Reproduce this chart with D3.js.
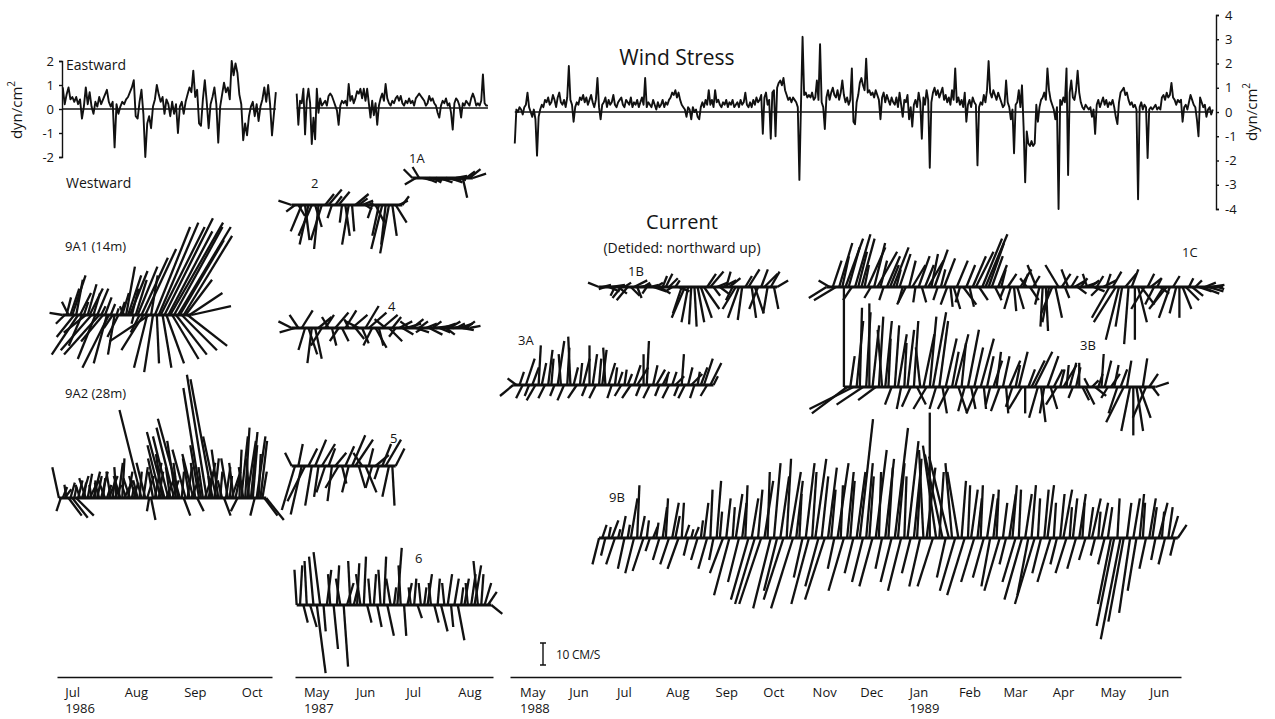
<!DOCTYPE html>
<html>
<head>
<meta charset="utf-8">
<script src="https://cdn.jsdelivr.net/npm/d3@7"></script>
<style>
    body { margin: 0; background: #fff; }
    svg text { font-family: "Open Sans", sans-serif; fill: #151515; }
</style>
</head>
<body>
<div id="wrapper"></div>
<script>
// ---- wind stress, daily values (dyn/cm^2), eastward positive ----
const windStart1986 = new Date(1986, 5, 30);
const windStress1986 = [
    0.9, 0.2, 0.6, 0.9, 0.4, 0.5, 0.3, 0.5, 0.2, 0.4, -0.4, 0.1, 0.9, 0.2, 0.7, 0.1, -0.2, 0.3, 0.1, 0.5,
    0.2, 0.4, 0.6, 0.8, 0.3, 0.1, 0.3, -1.6, 0.2, -0.2, 0.1, 0.3, 0.2, 0.4, 0.5, 0.7, 0.9, 1.2, -0.3, -0.4,
    0.3, 0.8, -0.2, -2.0, -0.6, -0.3, -0.8, 0.1, 0.4, 1.0, 0.6, 0.3, 0.5, -0.2, 0.4, 0.2, -0.3, 0.3, -0.2, 0.2,
    -1.0, 0.1, 0.3, -0.2, 0.3, 0.6, 0.9, 0.7, 1.6, 0.5, 0.8, -0.6, -0.7, 0.4, 1.2, 0.3, -0.8, 0.2, 0.5, 0.9,
    0.2, -1.4, 0.1, 0.6, 1.1, 0.7, 0.9, 0.4, 2.0, 1.4, 1.9, 1.5, 0.6, 0.2, -1.3, -0.6, -1.1, -0.3, 0.1, 0.3,
    -0.3, 0.2, -0.5, 0.1, 0.4, 0.9, 0.3, 1.0, 0.2, -1.1, -0.2, 0.7
];

const windStart1987 = new Date(1987, 3, 27);
const windStress1987 = [
    0.6, -0.7, 0.3, 0.2, 0.8, -1.1, 0.3, 0.8, 0.2, -1.5, -0.4, -1.3, 0.8, -0.2, 0.4, 0.1, 0.2, 0.3, 0.1, 0.5,
    0.6, 0.5, 0.3, 0.1, -0.1, -0.7, 0.1, 0.3, 0.2, 0.3, 0.1, 1.0, 0.3, 0.5, 0.2, 0.4, 0.7, 0.6, 0.8, 0.4,
    0.8, 0.3, 0.8, 0.2, -0.4, 0.3, -0.3, 0.2, -0.7, 0.1, 0.4, 0.6, 0.3, 1.0, 0.4, 0.2, 0.1, 0.3, 0.2, 0.4,
    0.5, 0.3, 0.5, 0.2, 0.1, 0.3, 0.2, 0.4, 0.2, 0.3, 0.1, 0.4, 0.5, 0.6, 0.5, 0.4, 0.3, 0.1, 0.2, 0.5,
    0.3, 0.4, 0.2, 0.1, -0.2, -0.4, 0.1, 0.3, 0.2, 0.4, 0.1, 0.2, -0.2, -0.9, 0.2, 0.4, 0.3, 0.1, -0.4, 0.2,
    0.1, 0.3, 0.2, 0.1, 0.4, 0.6, 0.4, 0.1, 0.2, 0.1, 0.3, 1.4, 0.2, 0.1, 0.1
];

const windStart1988 = new Date(1988, 3, 28);
const windStress1988 = [
    -1.3, 0.1, 0.0, 0.2, 0.1, -0.1, 0.2, 0.3, 0.8, 0.2, 0.0, -0.2, 0.1, -0.3, -1.8, -0.2, 0.1, 0.3, 0.2, 0.5,
    0.4, 0.6, 0.3, 0.4, 0.7, 0.5, 0.2, 0.6, 0.8, 0.4, 0.3, 0.5, 0.2, 0.6, 1.9, 0.5, 0.3, -0.4, 0.2, 0.4,
    0.3, 0.6, 0.5, 0.7, 0.4, 0.6, 0.3, 0.5, 0.7, 0.4, 0.2, 0.5, 1.4, 0.2, -0.3, 0.3, 0.4, 0.6, 0.2, 0.5,
    0.3, 0.4, 0.7, 0.3, 0.2, 0.4, 0.5, 0.6, 0.3, 0.2, 0.5, 0.4, 0.3, 0.6, 0.2, 0.4, 0.3, 0.5, 0.2, 0.4,
    0.6, 0.3, 1.4, 0.2, 0.4, 0.3, 0.2, 0.5, 0.3, 0.1, 0.4, 0.2, 0.3, 0.5, 0.2, 0.4, 0.3, 0.5, 0.6, 0.8,
    0.7, 0.9, 0.6, 0.8, 0.5, 0.3, 0.2, 0.1, -0.2, 0.2, 0.1, -0.3, 0.2, 0.0, 0.1, -0.2, -0.3, 0.2, 0.4, 0.2,
    0.5, 0.3, 0.9, 0.3, 0.5, 0.2, 0.9, 0.4, 0.5, 0.3, 0.2, 0.4, 0.3, 0.5, 0.2, 0.4, 0.3, 0.5, 0.2, 0.3,
    0.4, 0.2, 0.5, 0.3, 0.4, 0.8, 0.3, 0.2, 0.4, 0.2, 0.5, 0.3, 0.6, 0.4, 0.5, 0.7, -0.9, 0.6, 0.8, 0.3,
    0.5, -1.1, 0.8, 0.9, -1.0, 1.0, 1.2, 1.3, 1.1, 1.4, 0.9, 0.7, 0.5, 0.6, 0.4, 0.6, 0.5, 0.4, 0.2, -2.8,
    0.3, 3.1, 0.7, 0.8, 0.6, 0.7, 0.6, 0.8, 0.5, 0.6, 1.3, 0.5, 2.8, 0.4, 0.2, -0.7, 0.6, 0.9, 0.5, 0.8,
    1.0, 0.7, 0.6, 0.9, 0.5, 0.8, 1.3, 0.7, 0.4, 0.6, 0.3, 0.5, 1.8, -0.4, -0.5, 0.4, 0.7, 1.2, 1.4, 1.1,
    0.9, 2.2, 0.8, 0.9, 0.7, 0.8, 0.6, 0.9, 0.7, 0.5, -0.3, 0.6, 0.8, 0.4, 0.7, 0.5, 0.3, 0.6, 0.4, 0.3,
    0.6, 0.2, 0.8, 0.3, -0.2, 0.5, 0.4, 0.7, -0.3, 0.2, -0.6, 0.3, 0.5, 0.2, 0.8, 0.4, -1.1, 0.6, 0.3, 0.9,
    0.5, -2.3, 0.4, 0.8, 1.0, 0.7, 0.9, 0.6, 0.8, 1.0, 0.5, 0.7, 0.4, 0.6, 0.3, 0.9, 0.5, 1.8, 0.4, 0.6,
    0.3, 0.5, 0.2, 0.8, -0.4, 0.3, 0.5, 0.2, 0.6, 0.4, 0.3, -2.2, 0.2, 0.4, 0.3, 0.7, 0.4, 0.9, 2.1, 0.8,
    0.6, 0.9, 0.7, 0.5, 0.8, 0.6, 0.4, 0.2, 0.3, 1.3, 0.4, 0.2, -0.3, 0.1, -1.7, 0.3, 0.4, 0.9, 0.2, 1.1,
    -0.6, -2.9, -0.8, -1.3, -1.4, -1.2, -1.4, -1.3, 0.3, -0.4, 0.2, 0.5, 0.6, 0.8, 0.5, 1.8, 0.9, 0.5, 0.3, 0.1,
    -0.3, 0.2, -4.0, 0.5, 0.3, 0.6, 0.4, 1.8, -2.6, 0.8, 1.3, 0.6, 0.5, 0.9, 1.7, 0.8, 0.4, 0.2, 0.1, 0.3,
    0.2, 0.1, 0.2, -0.2, 0.1, -0.9, 0.3, 0.5, 0.2, 0.4, 0.6, 0.3, 0.5, 0.2, 0.4, 0.3, 0.5, 0.2, -0.2, -0.5,
    0.4, 0.8, 0.9, 1.0, 0.7, 0.8, 0.5, 0.3, 0.4, 0.2, 0.3, 0.1, -3.6, 0.2, 0.4, 0.1, 0.3, 0.2, -1.9, 0.1,
    0.2, 0.1, 0.2, 0.3, 0.1, 0.2, 0.1, 0.6, 0.7, 0.5, 0.8, 0.6, 0.7, 1.2, 0.6, 0.5, 0.3, 0.5, 0.4, 0.5,
    -0.4, 0.2, 0.3, 0.1, 0.4, 0.7, 0.5, 0.3, 0.2, -0.3, -1.0, 0.6, 0.4, 0.2, 0.3, -0.2, 0.1, 0.2, -0.1, 0.1
];

// ---- detided currents [east, north] in cm/s ----
const current9A1 = [
    [-6,1],[-4,-4],[2,8],[-3,6],[4,12],[6,18],[-8,-10],[3,16],[-12,-18],[5,10],
    [-6,-14],[2,6],[-10,-8],[4,14],[6,12],[-14,-16],[3,10],[-8,-20],[5,12],[-16,-18],
    [2,4],[-10,-12],[3,8],[-6,-22],[-12,-24],[2,5],[-4,-6],[-3,-18],[1,3],[-5,-10],
    [2,6],[3,10],[-2,4],[4,22],[6,18],[8,20],[3,12],[-1,-4],[5,16],[9,22],
    [-4,-8],[12,26],[-10,-16],[14,30],[-6,-24],[-18,-12],[3,18],[-4,-26],[16,40],[1,-22],
    [18,42],[20,40],[4,-24],[22,44],[8,-22],[20,38],[24,42],[12,-20],[22,40],[14,-18],
    [24,40],[20,34],[16,-16],[22,36],[12,16],[18,-14],[15,10],[18,4]
];
const current9A2 = [
    [-3,14],[-2,-6],[2,5],[3,4],[-1,6],[6,-8],[2,7],[7,-9],[1,5],[8,-8],
    [2,8],[-2,6],[3,10],[1,7],[-3,9],[2,11],[4,8],[-1,6],[3,12],[0,8],
    [2,10],[-2,7],[3,12],[1,9],[-3,8],[2,6],[4,10],[-2,12],[1,8],[3,6],
    [-1,14],[2,16],[-3,10],[1,18],[4,8],[-2,6],[2,12],[-3,9],[1,5],[2,7],
    [-3,10],[-2,8],[1,12],[-10,40],[2,14],[-4,16],[3,10],[-1,-6],[2,-10],[-2,12],
    [3,16],[-4,18],[2,12],[-6,24],[-3,20],[-8,30],[4,10],[-7,28],[-2,14],[3,8],
    [-8,32],[-4,26],[-2,16],[-10,36],[1,12],[3,-8],[-6,22],[2,14],[-3,18],[4,10],
    [-5,20],[-2,16],[3,-6],[-4,24],[-8,50],[-2,14],[4,12],[-9,56],[3,16],[-1,10],
    [-10,54],[2,18],[-6,28],[-3,22],[1,12],[-2,8],[3,-8],[2,14],[-3,18],[1,10],
    [4,12],[-2,16],[2,10],[-3,-6],[1,22],[3,28],[-2,14],[2,32],[4,26],[-1,18],
    [3,30],[2,24],[-2,-8],[4,28],[1,20],[3,26],[2,12],[6,-8],[8,-10]
];
const current1A = [
    [-4,4],[-5,-3],[-3,5],[4,-1],[5,-2],[6,-1],[4,-2],[5,-1],[6,-2],[3,-1],
    [5,-1],[6,-2],[4,-1],[5,1],[3,-1],[2,-9],[4,3],[5,4],[6,2]
];
const current2 = [
    [-6,2],[-4,-3],[3,-5],[-5,-12],[2,-16],[-4,-18],[-6,-14],[3,-10],[-2,-20],[-5,-16],
    [4,5],[6,7],[-2,-6],[3,4],[5,6],[-1,-8],[2,-14],[-3,-18],[1,-12],[6,5],
    [4,3],[5,2],[3,-2],[2,1],[-2,-6],[4,-8],[-3,-14],[-5,-20],[-2,-18],[-4,-22],
    [2,-14],[5,-8],[4,2],[3,4]
];
const current4 = [
    [-6,3],[-7,-2],[-4,6],[5,8],[-3,-10],[4,-12],[-2,-16],[3,-14],[6,5],[-5,-8],
    [4,6],[-3,5],[2,-8],[6,7],[-4,-6],[3,-6],[5,8],[-2,4],[7,6],[4,-5],
    [-6,3],[3,-7],[6,10],[8,7],[-4,-8],[5,-9],[2,-8],[7,6],[-5,4],[6,-6],
    [4,5],[-3,-4],[6,3],[5,-3],[7,2],[-4,3],[5,4],[6,-2],[4,3],[-3,-2],
    [5,2],[6,-3],[4,3],[7,1],[5,-2],[6,2],[4,-3],[5,3],[7,1],[4,2],
    [6,2],[5,-1],[4,3],[5,1]
];
const current5 = [
    [-3,6],[-6,-20],[2,10],[-5,-22],[-8,-16],[4,8],[-3,-18],[5,12],[-2,-14],[6,10],
    [-4,-12],[3,8],[-2,-16],[5,6],[-6,-10],[2,-8],[4,9],[-3,-12],[6,14],[8,12],
    [3,-10],[-4,6],[5,-12],[2,8],[-3,-10],[6,5],[-2,-6],[4,10],[7,12],[-3,-14],
    [1,-18],[4,8]
];
const current6 = [
    [-1,16],[1,18],[2,-8],[-1,20],[3,-10],[-2,22],[4,-31],[-3,24],[1,-12],[2,16],
    [-1,14],[2,-20],[1,18],[-2,12],[2,-28],[3,10],[-1,20],[2,8],[1,19],[-2,14],
    [1,22],[2,-8],[-1,12],[1,14],[2,-10],[-1,16],[1,22],[3,-14],[-2,12],[1,8],
    [2,26],[-1,18],[1,-14],[2,10],[-1,8],[1,12],[2,-6],[-1,10],[1,8],[2,14],
    [-1,10],[2,-8],[1,12],[3,-12],[-1,10],[2,14],[1,-10],[2,12],[3,-16],[1,8],
    [2,12],[-1,10],[2,14],[3,18],[-2,20],[1,14],[3,10],[4,6],[5,-4]
];
const current1B = [
    [-5,2],[4,1],[-3,-1],[5,-2],[6,1],[-2,-4],[4,-3],[-4,-5],[3,2],[-5,-6],
    [4,-4],[6,3],[2,-5],[5,1],[3,2],[-2,-3],[4,1],[6,-2],[3,2],[5,-3],
    [2,5],[3,6],[4,4],[-3,-2],[2,3],[5,-2],[-4,-12],[-6,-14],[-3,-16],[-1,-17],
    [1,-18],[3,-16],[5,-14],[7,-10],[4,6],[6,7],[3,-4],[5,2],[4,-3],[6,3],
    [2,7],[5,4],[-3,-6],[-6,-10],[-5,-14],[-2,-15],[3,5],[5,8],[2,-14],[4,-12],
    [-4,-10],[3,8],[6,6],[-2,-12],[4,7],[2,-10],[5,3]
];
const current3A = [
    [-6,-5],[-4,3],[2,6],[-3,-6],[4,12],[-2,-5],[3,8],[-4,-7],[1,18],[2,10],
    [-3,-6],[2,16],[1,12],[-2,-5],[3,20],[-1,14],[-3,-7],[1,17],[-1,22],[2,8],
    [-4,-6],[1,10],[3,12],[-2,-5],[0,18],[2,14],[-3,-6],[1,12],[2,16],[-1,17],
    [3,10],[-2,-6],[1,8],[2,6],[-3,-5],[1,7],[2,5],[-4,-6],[3,9],[5,8],
    [-2,-5],[0,14],[1,20],[-3,-6],[2,9],[4,7],[-2,-5],[3,6],[1,5],[-3,-6],
    [2,6],[4,4],[-2,-5],[1,14],[-3,-6],[2,8],[5,5],[-2,-6],[1,6],[3,8],
    [4,12],[-3,-5],[5,10],[2,4]
];
const current1C = [
    [-8,-5],[-5,3],[4,12],[-10,-6],[6,20],[3,14],[8,22],[5,18],[-4,-6],[7,24],
    [4,16],[6,22],[2,10],[8,18],[-3,-5],[5,20],[9,16],[3,12],[-2,-6],[6,14],
    [4,10],[7,18],[2,8],[5,15],[-2,-7],[-4,-8],[3,12],[6,10],[-1,-7],[5,14],
    [2,-7],[4,10],[7,12],[3,15],[6,17],[-2,-6],[2,8],[5,13],[-3,-8],[1,-9],
    [3,-10],[5,12],[-2,-7],[6,-8],[4,10],[2,-9],[6,14],[8,16],[4,-6],[9,22],
    [10,24],[7,20],[5,14],[3,-6],[4,10],[2,8],[-2,-5],[4,6],[-3,-10],[1,-11],
    [3,-10],[5,8],[2,6],[-3,4],[4,-6],[3,5],[-4,10],[-2,-8],[-1,-18],[1,-20],
    [-3,-16],[-5,-12],[3,-14],[-6,10],[4,6],[2,-5],[-3,8],[3,5],[5,3],[4,-3],
    [3,4],[6,2],[-2,6],[4,3],[5,-2],[3,5],[-4,-4],[6,3],[2,6],[-8,-14],
    [4,7],[-10,-16],[-6,-24],[-3,-18],[5,6],[-2,-26],[3,8],[0,-24],[4,-16],[6,-8],
    [-6,-10],[3,6],[5,4],[-4,-8],[2,4],[4,-3],[-5,-8],[-8,-10],[-5,-14],[3,5],
    [-3,-12],[0,-14],[4,-10],[6,-6],[2,4],[5,-4],[3,3],[6,-2],[8,-3],[5,2],
    [7,-2],[6,1],[4,0],[3,-1]
];
const current3B = [
    [0,45],[-16,-12],[2,14],[-20,-10],[3,30],[1,36],[-12,-8],[2,34],[0,38],[3,28],
    [-8,-6],[2,32],[-2,26],[3,30],[1,22],[-3,-8],[2,28],[4,24],[-2,-10],[1,20],
    [3,26],[-4,-9],[2,30],[4,-8],[-2,18],[5,24],[-6,-10],[3,32],[6,34],[-3,-10],
    [4,30],[2,-12],[5,22],[-5,-10],[3,16],[6,24],[4,-12],[2,20],[-3,-11],[5,26],
    [2,-10],[4,18],[-5,-12],[6,22],[1,-10],[3,14],[-2,-8],[4,12],[2,16],[-4,-11],
    [3,14],[1,-12],[5,12],[-3,-9],[2,10],[4,16],[-6,-10],[0,-12],[3,8],[6,12],
    [8,16],[-4,-14],[2,-16],[-2,-12],[5,14],[3,-10],[4,8],[-5,-8],[2,8],[6,10],
    [1,10],[3,11],[-2,-5],[2,9],[0,11],[3,-6],[4,-8],[-2,4],[3,3],[5,-4],
    [2,6],[1,15],[3,12],[-3,-5],[4,6],[2,10],[-4,-12],[3,8],[-8,-16],[2,12],
    [-4,-20],[0,-22],[3,-20],[5,-14],[2,13],[-6,-14],[4,6],[3,-4],[6,2]
];
const current9B = [
    [-3,-12],[2,6],[-2,-8],[1,5],[3,8],[-4,-12],[1,4],[2,10],[-3,-14],[1,6],
    [3,18],[-4,-16],[1,24],[2,10],[-5,-15],[1,8],[-2,-6],[2,5],[1,7],[-3,-10],
    [2,14],[1,18],[-4,-12],[3,16],[2,10],[-5,-14],[1,16],[2,6],[-2,-8],[1,4],
    [2,5],[-3,-10],[1,8],[2,16],[-4,-14],[1,22],[-2,-10],[2,26],[1,12],[-6,-16],
    [2,18],[-7,-26],[1,14],[3,20],[-5,-20],[2,16],[1,24],[-8,-28],[3,18],[-9,-30],
    [2,22],[-10,-30],[4,26],[1,30],[-8,-32],[3,34],[-6,-24],[4,28],[-9,-28],[2,36],
    [5,30],[-10,-32],[3,26],[1,20],[-4,-18],[4,34],[-8,-30],[2,30],[5,36],[-6,-22],
    [3,28],[-9,-28],[4,32],[2,22],[-3,-14],[5,34],[1,24],[-7,-24],[3,30],[2,26],
    [-4,-16],[4,30],[6,54],[-5,-20],[3,34],[2,28],[-6,-22],[5,40],[1,30],[-3,-14],
    [4,36],[2,32],[-5,-20],[6,50],[3,34],[-6,-24],[1,28],[5,44],[-4,-16],[3,30],
    [2,36],[-5,-22],[-2,40],[4,32],[0,57],[-7,-22],[-6,42],[2,30],[-8,38],[-4,-18],
    [-9,37],[-3,34],[-7,-24],[-5,30],[2,26],[-8,-26],[1,24],[3,22],[-6,-20],[2,18],
    [1,24],[-5,-18],[3,20],[-4,-22],[2,18],[1,22],[-7,-24],[2,16],[-3,-12],[3,20],
    [2,24],[-6,-20],[1,22],[-8,-28],[3,20],[-5,-26],[2,24],[-9,-30],[1,18],[-4,-16],
    [2,22],[3,24],[-6,-20],[1,16],[-3,-12],[2,20],[4,22],[-5,-16],[1,14],[2,18],
    [-4,-14],[3,20],[1,16],[-3,-10],[2,14],[4,18],[-2,-8],[1,12],[3,16],[-3,-12],
    [2,14],[-6,-30],[-8,-40],[1,18],[-9,-46],[-7,-38],[2,16],[-5,-34],[3,18],[-4,-24],
    [2,20],[1,16],[-3,-14],[3,18],[2,14],[-2,-10],[4,16],[1,12],[-3,-12],[2,14],
    [3,10],[-2,-8],[4,6]
];

// ---- month tick labels ----
const months1986 = [new Date(1986, 6, 1), new Date(1986, 7, 1), new Date(1986, 8, 1), new Date(1986, 9, 1)];
const months1987 = [new Date(1987, 4, 1), new Date(1987, 5, 1), new Date(1987, 6, 1), new Date(1987, 7, 1)];
const months1988 = d3.timeMonths(new Date(1988, 4, 1), new Date(1989, 5, 2));

const width = 1275;
const height = 719;
const axisY = 677;
const ink = "#111";

const svg = d3.select("#wrapper")
    .append("svg")
    .attr("width", width)
    .attr("height", height);

// one time scale per block of the figure
const x1986 = d3.scaleTime()
    .domain([new Date(1986, 5, 27), new Date(1986, 9, 17)])
    .range([57, 272]);
const x1987 = d3.scaleTime()
    .domain([new Date(1987, 3, 26), new Date(1987, 7, 22)])
    .range([295, 493]);
const x1988 = d3.scaleTime()
    .domain([new Date(1988, 3, 25), new Date(1989, 5, 21)])
    .range([510, 1181]);

const windY1986 = d3.scaleLinear().domain([-2, 2]).range([157, 61]);
const windY1987 = d3.scaleLinear().domain([-2, 2]).range([156, 60]);
const windY1988 = d3.scaleLinear().domain([-4, 4]).range([209, 15]);

// 10 cm/s = 22 px, same both ways
const speed = d3.scaleLinear().domain([0, 10]).range([0, 22]);

function drawWind(x, y, start, values) {
    const data = values.map((v, i) => ({date: d3.timeDay.offset(start, i), value: v}));
    const g = svg.append("g");
    g.append("line")
        .attr("x1", x(data[0].date))
        .attr("x2", x(data[data.length - 1].date))
        .attr("y1", y(0))
        .attr("y2", y(0))
        .attr("stroke", ink)
        .attr("stroke-width", 1.5);
    const lineGenerator = d3.line()
        .x(d => x(d.date))
        .y(d => y(d.value));
    g.append("path")
        .attr("d", lineGenerator(data))
        .attr("fill", "none")
        .attr("stroke", ink)
        .attr("stroke-width", 1.9)
        .attr("stroke-linejoin", "round");
}

function drawSticks(x, baseline, start, stepDays, values) {
    const data = values.map((d, i) => ({date: d3.timeDay.offset(start, i * stepDays), u: d[0], v: d[1]}));
    const g = svg.append("g");
    g.append("line")
        .attr("x1", x(data[0].date))
        .attr("x2", x(data[data.length - 1].date))
        .attr("y1", baseline)
        .attr("y2", baseline)
        .attr("stroke", ink)
        .attr("stroke-width", 3);
    g.selectAll("line.stick")
        .data(data)
        .join("line")
        .attr("class", "stick")
        .attr("x1", d => x(d.date))
        .attr("y1", baseline)
        .attr("x2", d => x(d.date) + speed(d.u))
        .attr("y2", d => baseline - speed(d.v))
        .attr("stroke", ink)
        .attr("stroke-width", 2.3);
}

function drawTimeAxis(x, ticks) {
    const axisGenerator = d3.axisBottom(x)
        .tickValues(ticks)
        .tickSize(0)
        .tickSizeOuter(0)
        .tickPadding(11)
        .tickFormat(d3.timeFormat("%b"));
    const axis = svg.append("g")
        .attr("transform", translate(0, axisY))
        .call(axisGenerator);
    axis.select(".domain")
        .attr("stroke", ink)
        .attr("stroke-width", 1.6);
    axis.selectAll(".tick text")
        .attr("text-anchor", "start")
        .attr("font-size", 13)
        .attr("font-family", "Open Sans");
    axis.selectAll(".tick")
        .filter(d => d === ticks[0] || d.getMonth() === 0)
        .append("text")
        .attr("y", 36)
        .attr("text-anchor", "start")
        .attr("font-size", 13)
        .attr("font-family", "Open Sans")
        .attr("fill", "#151515")
        .text(d => d.getFullYear());
}

function label(x, y, text, size, anchor) {
    return svg.append("text")
        .attr("x", x)
        .attr("y", y)
        .attr("font-size", size)
        .attr("text-anchor", anchor || "start")
        .text(text);
}

function unitLabel(cx, cy) {
    const t = svg.append("text")
        .attr("transform", `translate(${cx},${cy}) rotate(-90)`)
        .attr("text-anchor", "middle")
        .attr("font-size", 15);
    t.append("tspan").text("dyn/cm");
    t.append("tspan").attr("font-size", 10).attr("dy", -7).text("2");
}

function translate(x, y) {
    return `translate(${x},${y})`;
}

// ---- wind stress ----
drawWind(x1986, windY1986, windStart1986, windStress1986);
drawWind(x1987, windY1987, windStart1987, windStress1987);
drawWind(x1988, windY1988, windStart1988, windStress1988);

const leftAxis = svg.append("g")
    .attr("transform", translate(62, 0))
    .call(d3.axisLeft(windY1986).tickValues([-2, -1, 0, 1, 2]).tickSize(3).tickPadding(5).tickFormat(d => d));
const rightAxis = svg.append("g")
    .attr("transform", translate(1216, 0))
    .call(d3.axisRight(windY1988).tickValues(d3.range(-4, 5)).tickSize(3).tickPadding(6).tickFormat(d => d));
[leftAxis, rightAxis].forEach(a => {
    a.selectAll("path, line").attr("stroke", ink).attr("stroke-width", 1.4);
    a.selectAll("text").attr("font-size", 13).attr("font-family", "Open Sans");
});

unitLabel(22, 110);
unitLabel(1257, 112);
label(66, 70, "Eastward", 14);
label(66, 188, "Westward", 14);
label(677, 65, "Wind Stress", 21, "middle");

// ---- currents ----
drawSticks(x1986, 315, new Date(1986, 5, 30), 1, current9A1);
drawSticks(x1986, 498, new Date(1986, 5, 28), 1, current9A2);
drawSticks(x1987, 178, new Date(1987, 6, 5), 2, current1A);
drawSticks(x1987, 205, new Date(1987, 3, 24), 2, current2);
drawSticks(x1987, 328, new Date(1987, 3, 24), 2, current4);
drawSticks(x1987, 466, new Date(1987, 3, 24), 2, current5);
drawSticks(x1987, 605, new Date(1987, 3, 27), 2, current6);
drawSticks(x1988, 287, new Date(1988, 5, 20), 2, current1B);
drawSticks(x1988, 385, new Date(1988, 3, 27), 2, current3A);
drawSticks(x1988, 287, new Date(1988, 10, 10), 2, current1C);
drawSticks(x1988, 387, new Date(1988, 10, 21), 2, current3B);
drawSticks(x1988, 538, new Date(1988, 5, 20), 2, current9B);

label(65, 251, "9A1 (14m)", 13);
label(65, 398, "9A2 (28m)", 13);
label(409, 163, "1A", 13);
label(311, 188, "2", 13);
label(388, 311, "4", 13);
label(390, 443, "5", 13);
label(415, 563, "6", 13);
label(682, 229, "Current", 20, "middle");
label(682, 253, "(Detided: northward up)", 14, "middle");
label(628, 276, "1B", 13);
label(518, 345, "3A", 13);
label(1182, 257, "1C", 13);
label(1080, 350, "3B", 13);
label(609, 502, "9B", 13);

// ---- scale bar ----
const barTop = 643;
svg.append("path")
    .attr("d", `M540,${barTop}H546M543,${barTop}V${barTop + speed(10)}M540,${barTop + speed(10)}H546`)
    .attr("fill", "none")
    .attr("stroke", ink)
    .attr("stroke-width", 1.4);
label(556, 659, "10 CM/S", 12).attr("letter-spacing", -0.3);

// ---- time axes ----
drawTimeAxis(x1986, months1986);
drawTimeAxis(x1987, months1987);
drawTimeAxis(x1988, months1988);
</script>
</body>
</html>
